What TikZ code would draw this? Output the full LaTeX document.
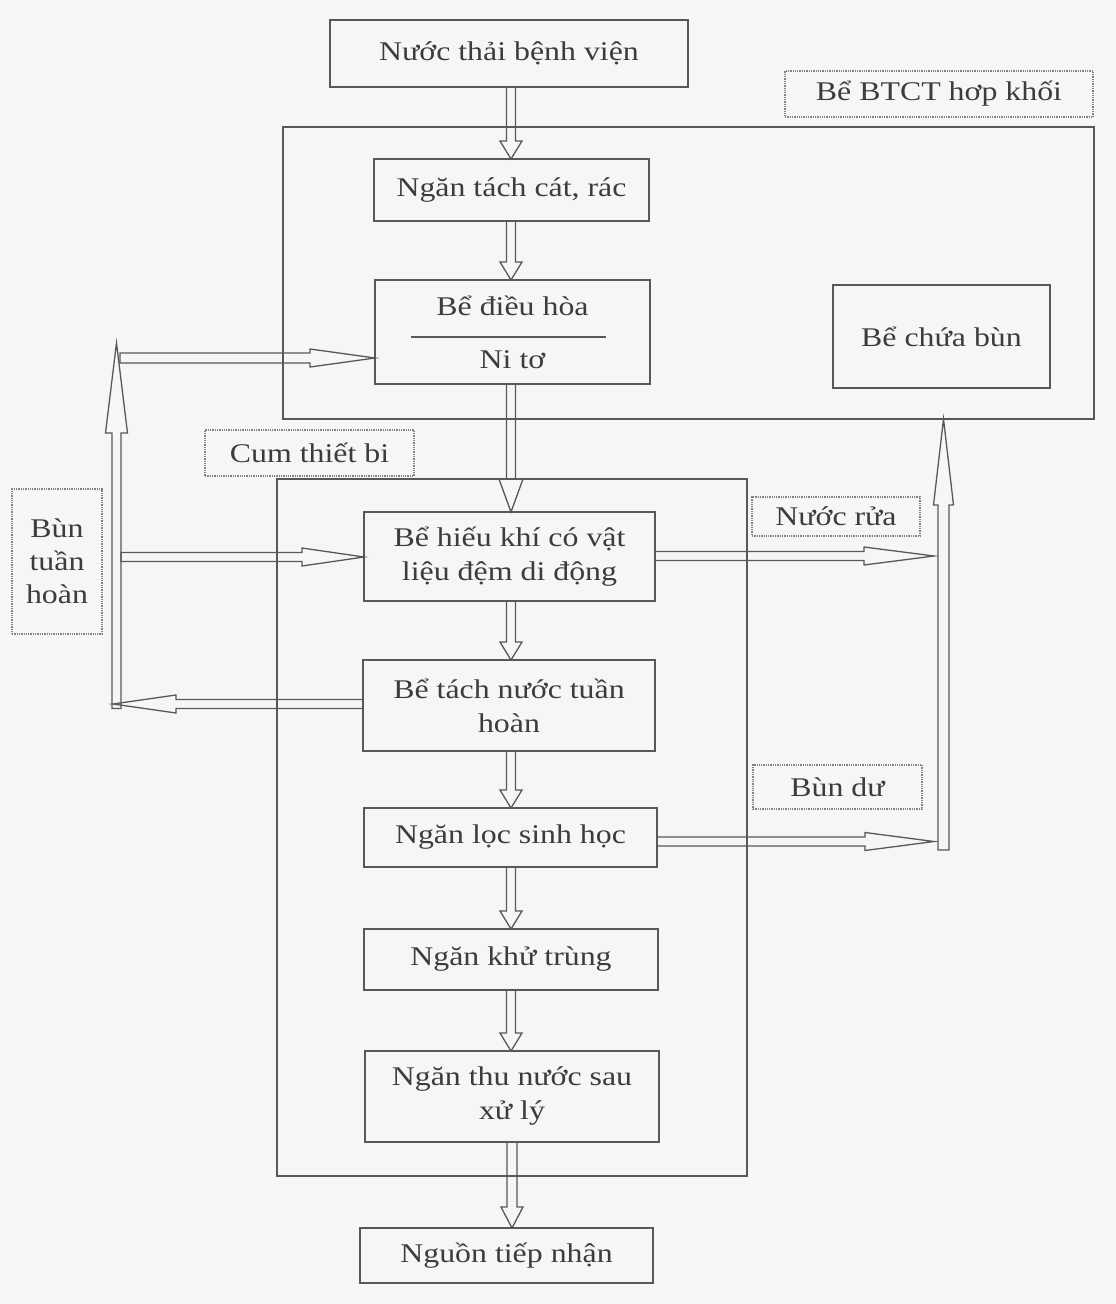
\documentclass[tikz,border=0pt]{standalone}
\usepackage{fontspec}
\setmainfont{Liberation Serif}[FakeStretch=1.18]
\usetikzlibrary{calc}
\definecolor{bg}{RGB}{246,246,245}
\definecolor{ln}{RGB}{88,88,88}
\definecolor{tx}{RGB}{60,60,60}
% fat hollow arrow: from, to, head length, head half width, shaft half width
\newcommand{\fatarrow}[5]{%
  \coordinate (fa-c) at ($(#2)!#3!(#1)$);
  \draw[fat] ($(#1)!#5!90:(#2)$) -- ($(fa-c)!#5!90:(#2)$) -- ($(fa-c)!#4!90:(#2)$)
    -- (#2) -- ($(fa-c)!#4!-90:(#2)$) -- ($(fa-c)!#5!-90:(#2)$) -- ($(#1)!#5!-90:(#2)$) -- cycle;}
\tikzset{
  box/.style={draw=ln, line width=1.4pt, align=center, inner sep=0pt, outer sep=0pt,
    text=tx, font=\fontsize{27}{34}\selectfont},
  lab/.style={draw=ln!75, densely dotted, line width=1.3pt, align=center, inner sep=0pt,
    outer sep=0pt, text=tx, font=\fontsize{27}{33}\selectfont},
  fat/.style={draw=ln, line width=1.3pt, line join=miter},
}
\begin{document}
\begin{tikzpicture}[x=1pt,y=-1pt]
\fill[bg] (0,0) rectangle (1116,1304);
\useasboundingbox (0,0) rectangle (1116,1304);

% outer groups
\node[box, minimum width=811pt, minimum height=292pt] (btct) at (688.5,273) {};
\node[box, minimum width=470pt, minimum height=697pt] (cum) at (512,827.5) {};

% labels
\node[lab, minimum width=308pt, minimum height=46pt] (btctlab) at (939,94) {Bể BTCT hơp khối};
\node[lab, minimum width=209pt, minimum height=46pt] (cumlab) at (309.5,453) {Cum thiết bi};
\node[lab, minimum width=90pt, minimum height=145pt] (btr) at (57,561.5) {Bùn\\tuần\\hoàn};
\node[lab, minimum width=168pt, minimum height=39pt] (nr) at (836,516.5) {Nước rửa};
\node[lab, minimum width=169pt, minimum height=44pt] (bd) at (837.5,787) {Bùn dư};

% process boxes
\node[box, minimum width=358pt, minimum height=67pt] (nt) at (509,53.5) {Nước thải bệnh viện};
\node[box, minimum width=275pt, minimum height=62pt] (ntc) at (511.5,190) {Ngăn tách cát, rác};
\node[box, minimum width=275pt, minimum height=104pt] (dh) at (512.5,332) {};
\node[box, draw=none] (dh1) at (512.5,306) {Bể điều hòa};
\node[box, draw=none] (dh2) at (512.5,360) {Ni tơ};
\draw[ln, line width=1.3pt] ($(dh.west)!0.13!(dh.east)+(0,5)$) coordinate (dhl1) -- ($(dh.west)!0.84!(dh.east)+(0,5)$) coordinate (dhl2);
\node[box, minimum width=217pt, minimum height=103pt] (cb) at (941.5,336.5) {Bể chứa bùn};
\node[box, minimum width=291pt, minimum height=89pt] (hk) at (509.5,556.5) {Bể hiếu khí có vật\\liệu đệm di động};
\node[box, minimum width=292pt, minimum height=91pt] (tn) at (509,705.5) {Bể tách nước tuần\\hoàn};
\node[box, minimum width=293pt, minimum height=59pt] (lsh) at (510.5,837.5) {Ngăn lọc sinh học};
\node[box, minimum width=294pt, minimum height=61pt] (kt) at (511,959.5) {Ngăn khử trùng};
\node[box, minimum width=294pt, minimum height=91pt] (tnx) at (512,1096.5) {Ngăn thu nước sau\\xử lý};
\node[box, minimum width=293pt, minimum height=55pt] (ntn) at (506.5,1255.5) {Nguồn tiếp nhận};

% helper coordinates
\coordinate (mx) at (511,0);
\coordinate (mx2) at (512,0);
\coordinate (lx) at (116.5,0);
\coordinate (rx) at (943.5,0);

% main vertical flow
\coordinate (a1s) at (nt.south -| mx);  \coordinate (a1e) at (ntc.north -| mx);
\coordinate (a2s) at (ntc.south -| mx); \coordinate (a2e) at (dh.north -| mx);
\coordinate (a3s) at (dh.south -| mx);  \coordinate (a3e) at (hk.north -| mx);
\coordinate (a4s) at (hk.south -| mx);  \coordinate (a4e) at (tn.north -| mx);
\coordinate (a5s) at (tn.south -| mx);  \coordinate (a5e) at (lsh.north -| mx);
\coordinate (a6s) at (lsh.south -| mx); \coordinate (a6e) at (kt.north -| mx);
\coordinate (a7s) at (kt.south -| mx);  \coordinate (a7e) at (tnx.north -| mx);
\coordinate (a8s) at (tnx.south -| mx2); \coordinate (a8e) at (ntn.north -| mx2);
\fatarrow{a1s}{a1e}{18pt}{11pt}{4.5pt}
\fatarrow{a2s}{a2e}{18pt}{11pt}{4.5pt}
\fatarrow{a3s}{a3e}{33pt}{12pt}{4.5pt}
\fatarrow{a4s}{a4e}{18pt}{11pt}{4.5pt}
\fatarrow{a5s}{a5e}{18pt}{11pt}{4.5pt}
\fatarrow{a6s}{a6e}{18pt}{11pt}{4.5pt}
\fatarrow{a7s}{a7e}{18pt}{11pt}{4.5pt}
\fatarrow{a8s}{a8e}{21pt}{11pt}{5pt}

% left recirculation
\coordinate (lb) at (116.5,708.5);
\coordinate (lt) at (116.5,343);
\fatarrow{lb}{lt}{90pt}{11pt}{4.5pt}
\coordinate (l1s) at (120,358);
\coordinate (l1e) at (l1s -| dh.west);
\fatarrow{l1s}{l1e}{65pt}{9pt}{5pt}
\coordinate (l2s) at (121,557);
\coordinate (l2e) at (l2s -| hk.west);
\fatarrow{l2s}{l2e}{62pt}{9pt}{4.5pt}
\coordinate (l3s) at (tn.west |- 0,704);
\coordinate (l3e) at (113,704);
\fatarrow{l3s}{l3e}{63pt}{9pt}{4.5pt}

% right sludge line
\coordinate (rb) at (943.5,850);
\coordinate (rt) at (btct.south -| rx);
\fatarrow{rb}{rt}{86pt}{10pt}{5.5pt}
\coordinate (r1s) at (hk.east |- 0,556);
\coordinate (r1e) at (934,556);
\fatarrow{r1s}{r1e}{70pt}{9pt}{4.5pt}
\coordinate (r2s) at (lsh.east |- 0,841.5);
\coordinate (r2e) at (934,841.5);
\fatarrow{r2s}{r2e}{69pt}{9pt}{4.5pt}
\end{tikzpicture}
\end{document}
